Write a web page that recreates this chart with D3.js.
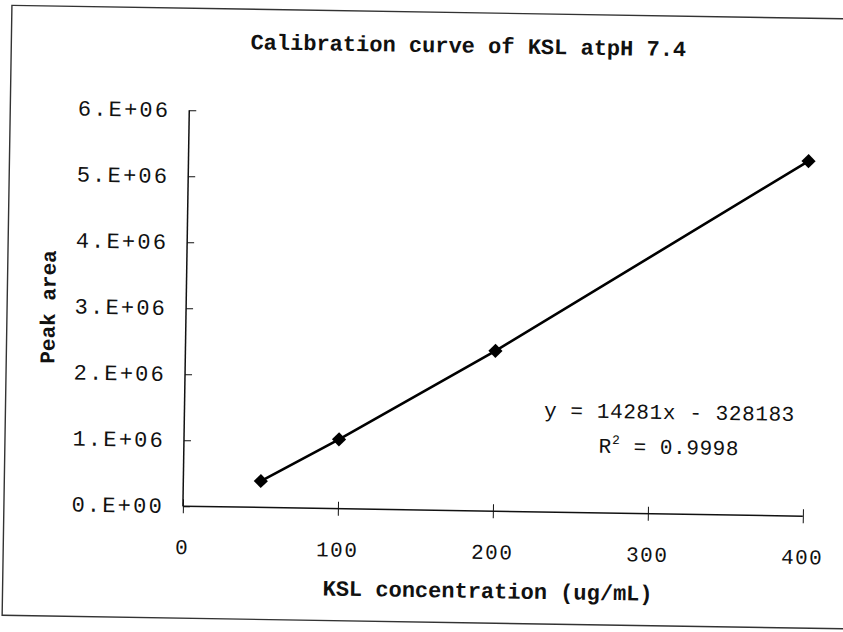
<!DOCTYPE html>
<html>
<head>
<meta charset="utf-8">
<script src="https://cdn.jsdelivr.net/npm/d3@7"></script>
<style>
  body { margin: 0; background: #fff; }
  text { fill: #111; }
  .tick-label { font-family: "Liberation Mono", "DejaVu Sans Mono", monospace; font-size: 21px; letter-spacing: 1.5px; }
  .bold { font-family: "Liberation Mono", "DejaVu Sans Mono", monospace; font-weight: bold; }
</style>
</head>
<body>
<svg id="chart" width="843" height="632"></svg>
<script>
const concentrations = [50, 100, 200, 400]
const peakAreas = [0.4e6, 1.05e6, 2.43e6, 5.38e6]

const xTicks = [0, 100, 200, 300, 400]
const yTicks = [0, 1e6, 2e6, 3e6, 4e6, 5e6, 6e6]
const yTickLabels = ["0.E+00", "1.E+06", "2.E+06", "3.E+06", "4.E+06", "5.E+06", "6.E+06"]

const title = "Calibration curve of KSL atpH 7.4"
const xTitle = "KSL concentration (ug/mL)"
const yTitle = "Peak area"
const fitEquation = "y = 14281x - 328183"
const fitR2 = "0.9998"

const w = 843
const h = 632
const svg = d3.select("#chart")

// the scan is tilted a little, so the whole sheet is drawn then turned
const page = svg.append("g").attr("transform", `rotate(0.92, ${w / 2}, ${h / 2})`)

const x = d3.scaleLinear([0, 400], [186, 806])
const y = d3.scaleLinear([0, 6e6], [510, 114])

// outer frame
page.append("rect")
  .attr("x", 7).attr("y", 12)
  .attr("width", 860).attr("height", 610)
  .attr("fill", "none").attr("stroke", "#333").attr("stroke-width", 1.4)

// axes with crossing ticks
const xAxis = page.append("g").attr("transform", `translate(0, ${y(0)})`)
  .call(d3.axisBottom(x).tickValues(xTicks).tickSize(7).tickFormat(""))
xAxis.select(".domain").attr("d", `M${x(0)},0H${x(400)}`).attr("stroke", "#111").attr("stroke-width", 1.5)
xAxis.selectAll(".tick line").attr("y1", -7).attr("stroke", "#111")

const yAxis = page.append("g").attr("transform", `translate(${x(0)}, 0)`)
  .call(d3.axisLeft(y).tickValues(yTicks).tickSize(7).tickFormat(""))
yAxis.select(".domain").attr("d", `M0,${y(0)}V${y(6e6)}`).attr("stroke", "#111").attr("stroke-width", 1.5)
yAxis.selectAll(".tick line").attr("x2", 7).attr("stroke", "#111")

page.append("g").selectAll("text")
  .data(xTicks)
  .join("text")
  .classed("tick-label", true)
  .attr("x", (d) => x(d))
  .attr("y", 558)
  .attr("text-anchor", "middle")
  .text((d) => d)

page.append("g").selectAll("text")
  .data(yTicks)
  .join("text")
  .classed("tick-label", true)
  .attr("x", 167)
  .attr("y", (d) => y(d) + 7)
  .attr("text-anchor", "end")
  .style("font-size", "22px")
  .style("letter-spacing", "2.2px")
  .text((d, i) => yTickLabels[i])

// series line and diamond markers
const points = concentrations.map((c, i) => [c, peakAreas[i]])
page.append("path")
  .datum(points)
  .attr("d", d3.line().x((d) => x(d[0])).y((d) => y(d[1])))
  .attr("fill", "none")
  .attr("stroke", "#000")
  .attr("stroke-width", 2.6)

page.append("g").selectAll("path")
  .data(points)
  .join("path")
  .attr("d", d3.symbol(d3.symbolSquare, 100))
  .attr("transform", (d) => `translate(${x(d[0])}, ${y(d[1])}) rotate(45)`)
  .attr("fill", "#000")

// titles
page.append("text").classed("bold", true)
  .attr("x", 464).attr("y", 52)
  .attr("text-anchor", "middle")
  .style("font-size", "22px")
  .text(title)

page.append("text").classed("bold", true)
  .attr("x", 492).attr("y", 597)
  .attr("text-anchor", "middle")
  .style("font-size", "22px")
  .text(xTitle)

page.append("text").classed("bold", true)
  .attr("transform", `translate(55, 313) rotate(-90)`)
  .attr("text-anchor", "middle")
  .style("font-size", "21px")
  .text(yTitle)

// trendline label
page.append("text").classed("tick-label", true)
  .attr("x", 671).attr("y", 415)
  .attr("text-anchor", "middle")
  .style("letter-spacing", "0.6px")
  .text(fitEquation)

const r2 = page.append("text").classed("tick-label", true)
  .attr("x", 671).attr("y", 450)
  .attr("text-anchor", "middle")
  .style("letter-spacing", "0.6px")
r2.append("tspan").text("R")
r2.append("tspan").attr("dy", -9).style("font-size", "13px").text("2")
r2.append("tspan").attr("dy", 9).text(" = " + fitR2)
</script>
</body>
</html>
